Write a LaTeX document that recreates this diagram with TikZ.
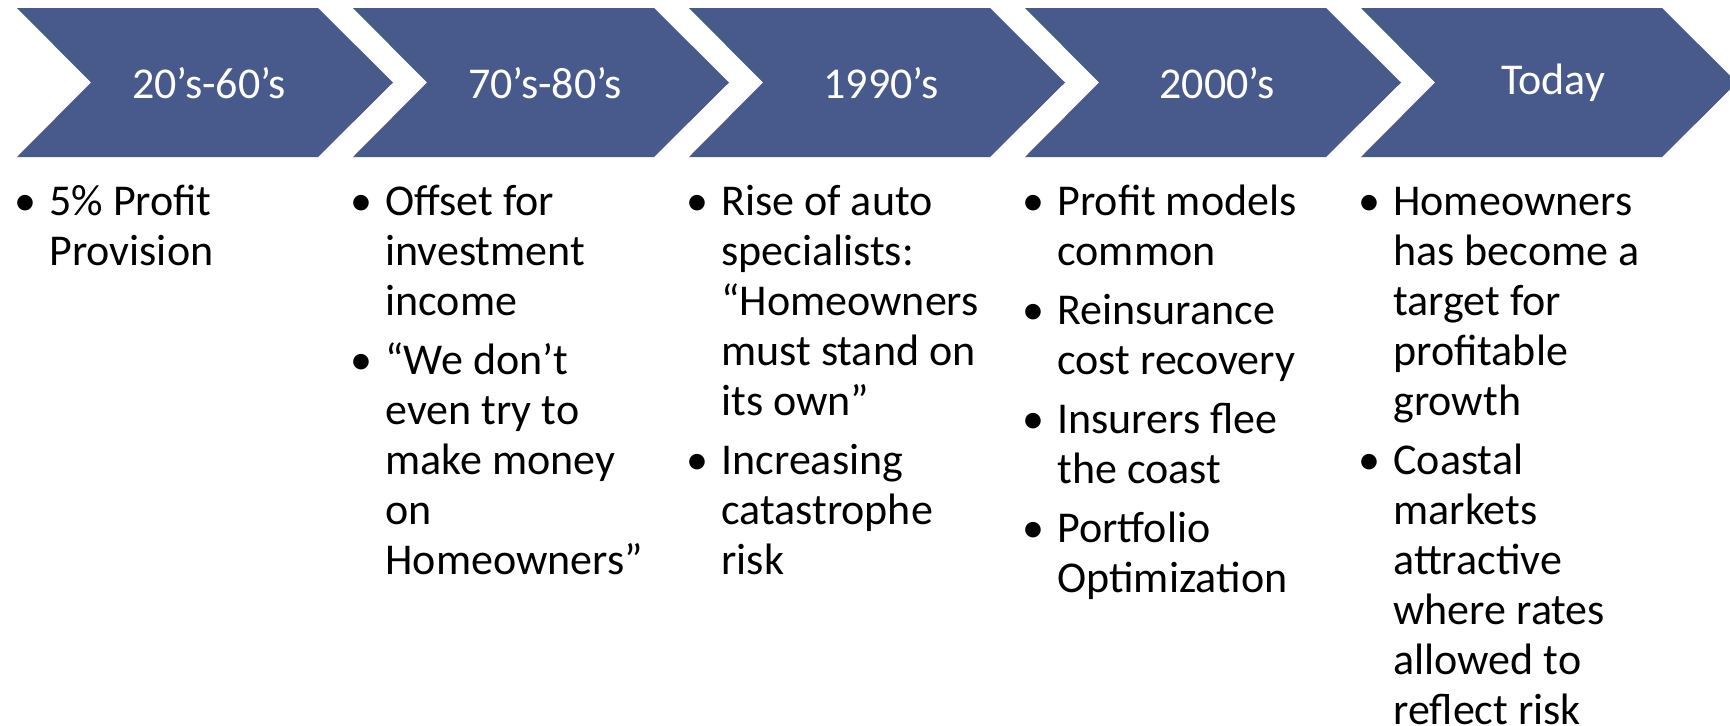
\documentclass[tikz,border=0pt]{standalone}
\usepackage{fontspec}
\setmainfont{Carlito}
\definecolor{chevblue}{RGB}{72,90,140}
\newcommand{\bul}{\strut\makebox[17.5pt][l]{\textbullet}}
\newcommand{\ind}{\hspace*{17.5pt}}
\begin{document}
\begin{tikzpicture} [x=0.5pt, y=-0.5pt,
  chevron/.style={fill=chevblue},
  era/.style={text=white, inner sep=0pt, font=\fontsize{22}{26}\selectfont},
  notes/.style={anchor=north west, align=left, inner sep=0pt, font=\fontsize{22}{25}\selectfont}]
\useasboundingbox (0,0) rectangle (1730,725);
\clip (0,0) rectangle (1730,725);
% arrows along the top
\fill [chevron] (17,8) -- ++(301,0) -- ++(75,74.5) -- ++(-75,74.5) -- ++(-301,0) -- ++(74,-74.5) -- cycle;
\fill [chevron] (353,8) -- ++(301,0) -- ++(75,74.5) -- ++(-75,74.5) -- ++(-301,0) -- ++(74,-74.5) -- cycle;
\fill [chevron] (689,8) -- ++(301,0) -- ++(75,74.5) -- ++(-75,74.5) -- ++(-301,0) -- ++(74,-74.5) -- cycle;
\fill [chevron] (1025,8) -- ++(301,0) -- ++(75,74.5) -- ++(-75,74.5) -- ++(-301,0) -- ++(74,-74.5) -- cycle;
\fill [chevron] (1361,8) -- ++(301,0) -- ++(75,74.5) -- ++(-75,74.5) -- ++(-301,0) -- ++(74,-74.5) -- cycle; % runs off the edge
\node [era] (era1) at (209,83) {20’s-60’s};
\node [era] (era2) at (545,83) {70’s-80’s};
\node [era] (era3) at (881,83) {1990’s};
\node [era] (era4) at (1217,83) {2000’s};
\node [era] (era5) at (1553,83) {Today};
% bullet lists under each arrow (strut in \bul fixes the first baseline 35px below the top)
\node [notes] (notes1) at (14,180) {\bul 5\% Profit\\ \ind Provision};
\node [notes] (notes2) at (350,180) {\bul Offset for\\ \ind investment\\ \ind income\\[4.5pt]
  \bul “We don’t\\ \ind even try to\\ \ind make money\\ \ind on\\ \ind Homeowners”};
\node [notes] (notes3) at (686,180) {\bul Rise of auto\\ \ind specialists:\\ \ind “Homeowners\\ \ind must stand on\\ \ind its own”\\[4.5pt]
  \bul Increasing\\ \ind catastrophe\\ \ind risk};
\node [notes] (notes4) at (1022,180) {\bul Profit models\\ \ind common\\[4.5pt]
  \bul Reinsurance\\ \ind cost recovery\\[4.5pt]
  \bul Insurers flee\\ \ind the coast\\[4.5pt]
  \bul Portfolio\\ \ind Optimization};
\node [notes] (notes5) at (1358,180) {\bul Homeowners\\ \ind has become a\\ \ind target for\\ \ind profitable\\ \ind growth\\[4.5pt]
  \bul Coastal\\ \ind markets\\ \ind attractive\\ \ind where rates\\ \ind allowed to\\ \ind reflect risk};
\end{tikzpicture}
\end{document}
